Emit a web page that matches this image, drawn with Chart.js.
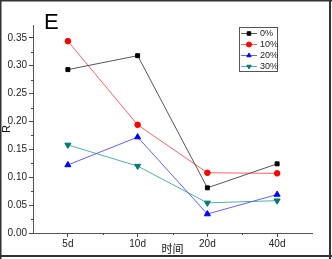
<!DOCTYPE html>
<html>
<head>
<meta charset="utf-8">
<script src="https://cdn.jsdelivr.net/npm/chart.js@4"></script>
<style>
  html, body { margin: 0; padding: 0; background: #fff; }
  #wrap { width: 332px; height: 259px; position: relative; }
</style>
</head>
<body>
<div id="wrap"><canvas id="g_r"></canvas></div>
<script>
// data
const days = ["5d", "10d", "20d", "40d"];
const yTicks = [0, 0.05, 0.10, 0.15, 0.20, 0.25, 0.30, 0.35];
const r0 = [0.293, 0.318, 0.081, 0.124];
const r10 = [0.344, 0.194, 0.108, 0.107];
const r20 = [0.122, 0.172, 0.034, 0.069];
const r30 = [0.158, 0.120, 0.054, 0.058];
const seriesNames = ["0%", "10%", "20%", "30%"];

const FONT = "'Liberation Sans', Arial, sans-serif";

// Panel letter, frame, minor ticks and the boxed legend
const extras = {
    id: "extras",
    afterDraw(chart) {
        const ctx = chart.ctx;
        const area = chart.chartArea;
        const y = chart.scales.y;
        const x = chart.scales.x;
        ctx.save();
        // minor ticks
        ctx.strokeStyle = "#444";
        ctx.lineWidth = 1;
        for (let v = 0.025; v < 0.37; v += 0.05) {
            const py = Math.round(y.getPixelForValue(v)) + 0.5;
            ctx.beginPath();
            ctx.moveTo(area.left - 2, py);
            ctx.lineTo(area.left, py);
            ctx.stroke();
        }
        for (let i = 0; i < days.length - 1; i++) {
            const px = Math.round((x.getPixelForValue(i) + x.getPixelForValue(i + 1)) / 2) + 0.5;
            ctx.beginPath();
            ctx.moveTo(px, area.bottom);
            ctx.lineTo(px, area.bottom + 2);
            ctx.stroke();
        }
        // panel letter
        ctx.fillStyle = "#000";
        ctx.font = "22px " + FONT;
        ctx.textBaseline = "alphabetic";
        ctx.textAlign = "left";
        ctx.fillText("E", 44, 29);
        // legend
        const lx = 239, ly = 27, lw = 38, lh = 44;
        ctx.strokeStyle = "#555";
        ctx.strokeRect(lx + 0.5, ly + 0.5, lw, lh);
        ctx.font = "9px " + FONT;
        ctx.textBaseline = "middle";
        chart.data.datasets.forEach(function(ds, i) {
            const cy = ly + 6 + i * 11;
            ctx.strokeStyle = ds.borderColor;
            ctx.beginPath();
            ctx.moveTo(lx + 2, cy + 0.5);
            ctx.lineTo(lx + 18, cy + 0.5);
            ctx.stroke();
            ctx.fillStyle = ds.pointBackgroundColor;
            ctx.strokeStyle = ds.pointBorderColor;
            Chart.helpers.drawPoint(ctx, {
                pointStyle: ds.pointStyle,
                rotation: ds.pointRotation || 0,
                radius: 2.5,
                borderWidth: 1
            }, lx + 10, cy + 0.5);
            ctx.fillStyle = "#222";
            ctx.fillText(ds.label, lx + 21, cy + 1);
        });
        // frame
        ctx.fillStyle = "#333";
        ctx.fillRect(0, 0, 332, 1.5);
        ctx.fillRect(0, 0, 1.5, 259);
        ctx.fillRect(329, 0, 2, 259);
        ctx.fillRect(0, 255, 332, 2);
        ctx.restore();
    }
};

function makeSet(label, values, line, marker, style, rot) {
    return {
        label: label,
        data: values,
        borderColor: line,
        backgroundColor: marker,
        pointBackgroundColor: marker,
        pointBorderColor: marker,
        pointStyle: style,
        pointRotation: rot || 0,
        pointRadius: style === "triangle" ? 3.5 : 2.8,
        borderWidth: 1,
        tension: 0
    };
}

window.addEventListener("load", () => {
    const ctx = document.getElementById("g_r").getContext("2d");
    const conData = {
        labels: days,
        datasets: [
            makeSet(seriesNames[0], r0, "#555555", "#000000", "rect"),
            makeSet(seriesNames[1], r10, "#ff6060", "#ff0000", "circle"),
            makeSet(seriesNames[2], r20, "#6060ff", "#0000ff", "triangle"),
            makeSet(seriesNames[3], r30, "#50b0a8", "#007878", "triangle", 180)
        ]
    };
    const options = {
        responsive: false,
        animation: false,
        devicePixelRatio: 1,
        layout: { padding: { left: 0, top: 25, right: 20, bottom: 0 } },
        plugins: {
            legend: { display: false },
            tooltip: { enabled: false }
        },
        scales: {
            x: {
                type: "category",
                offset: true,
                border: { color: "#555", width: 1 },
                grid: { display: true, drawOnChartArea: false, offset: false, tickLength: 4, color: "#444" },
                ticks: { color: "#222", font: { family: FONT, size: 10 }, padding: 1, maxRotation: 0 },
                title: { display: true, text: "时间", color: "#111",
                    font: { family: "'Noto Sans CJK SC', sans-serif", size: 11 }, padding: { top: 0, bottom: 4 } },
                afterFit(s) { s.height = 26; }
            },
            y: {
                min: 0,
                max: 0.373,
                border: { color: "#555", width: 1 },
                grid: { display: true, drawOnChartArea: false, tickLength: 4, color: "#444" },
                afterBuildTicks(s) { s.ticks = yTicks.map(v => ({ value: v })); },
                ticks: {
                    color: "#222",
                    font: { family: FONT, size: 10 },
                    padding: 2,
                    callback: v => Number(v).toFixed(2)
                },
                title: { display: true, text: "R", color: "#111",
                    font: { family: FONT, size: 11 }, padding: { top: 0, bottom: 0 } },
                afterFit(s) { s.width = 33; }
            }
        }
    };
    const canvas = document.getElementById("g_r");
    canvas.width = 332;
    canvas.height = 259;
    new Chart(ctx, { type: "line", data: conData, options: options, plugins: [extras] });
});
</script>
</body>
</html>
